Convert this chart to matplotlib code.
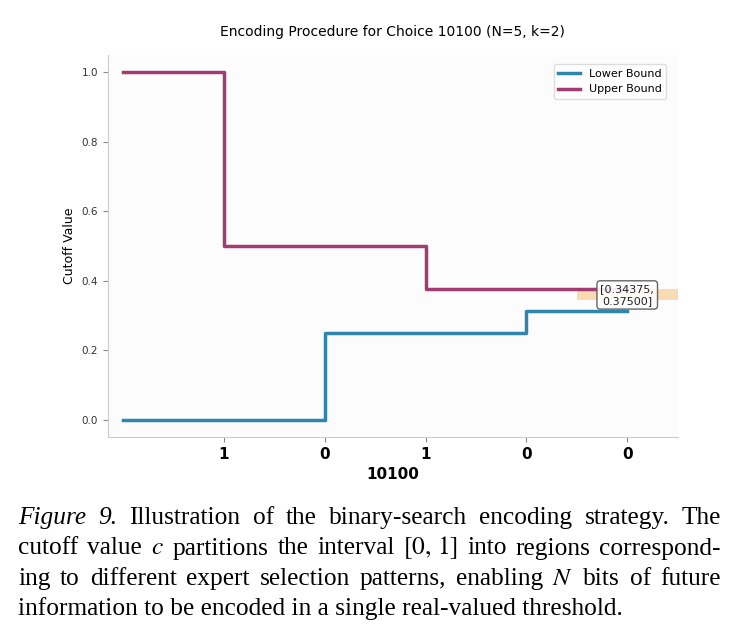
#!/usr/bin/env python3
import matplotlib
matplotlib.use("Agg")
import matplotlib.pyplot as plt

# encoding steps for choice 10100
steps = [0, 1, 2, 3, 4, 5]
bits = ["1", "0", "1", "0", "0"]
lower = [0.0, 0.0, 0.25, 0.25, 0.3125, 0.3125]
upper = [1.0, 0.5, 0.5, 0.375, 0.375, 0.375]
final_interval = [0.34375, 0.37500]

title = "Encoding Procedure for Choice 10100 (N=5, k=2)"
# words starting with "*" are set in italics
caption = [
    "*Figure *9. Illustration of the binary-search encoding strategy. The",
    r"cutoff value $c$ partitions the interval $[0,\,1]$ into regions correspond-",
    r"ing to different expert selection patterns, enabling $N$ bits of future",
    r"information to be encoded in a single real-valued threshold.",
]

plt.rcParams["mathtext.fontset"] = "stix"

fig = plt.figure(figsize=(7.39, 6.4), dpi=100)
ax = fig.add_axes([0.146, 0.317, 0.771, 0.597])
ax.set_facecolor("#fcfcfc")

ax.step(steps, lower, where="post", color="#2E86AB", lw=2.5, label="Lower Bound")
ax.step(steps, upper, where="post", color="#A23B72", lw=2.5, label="Upper Bound")
ax.fill_between([steps[-1] - 0.5, steps[-1] + 0.5], final_interval[0], final_interval[1],
                color="#F18F01", alpha=0.3, lw=0)
ax.text(steps[-1], sum(final_interval) / 2,
        f"[{final_interval[0]:.5f},\n{final_interval[1]:.5f}]",
        ha="center", va="center", fontsize=8, color="#222222",
        bbox=dict(boxstyle="round,pad=0.3", fc="white", ec="#555555", alpha=0.9))

ax.set_xlim(-0.15, 5.5)
ax.set_ylim(-0.05, 1.05)
ax.set_xticks(steps[1:])
ax.set_xticklabels(bits, fontsize=11, fontweight="bold")
ax.set_yticks([0.0, 0.2, 0.4, 0.6, 0.8, 1.0])
ax.tick_params(axis="y", labelsize=7.5, colors="#333333")
ax.tick_params(axis="both", color="#888888")
ax.set_xlabel("10100", fontsize=11, fontweight="bold")
ax.set_ylabel("Cutoff Value", fontsize=9)
ax.set_title(title, fontsize=10, pad=14)
for s in ["top", "right"]:
    ax.spines[s].set_visible(False)
for s in ["left", "bottom"]:
    ax.spines[s].set_color("#cccccc")
ax.legend(loc="upper right", fontsize=8, framealpha=1, edgecolor="#dddddd",
          bbox_to_anchor=(0.99, 0.99))

# caption, justified line by line
x0, x1 = 18 / 739, 721 / 739
fs = 18.3
renderer = fig.canvas.get_renderer()


def split_words(line):
    words, buf = [], None
    for w in line.split(" "):
        if buf is not None:
            buf += " " + w
            if w.count("$") % 2 == 1:
                words.append(buf)
                buf = None
        elif w.count("$") % 2 == 1:
            buf = w
        else:
            words.append(w)
    return words


for i, line in enumerate(caption):
    y = 1 - (524 + i * 30.5) / 640
    if i == len(caption) - 1:
        fig.text(x0, y, line, fontsize=fs, family="Liberation Serif", va="baseline")
        continue
    texts = []
    for w in split_words(line):
        style = "italic" if w.startswith("*") else "normal"
        texts.append(fig.text(0, y, w.lstrip("*"), fontsize=fs, family="Liberation Serif",
                              style=style, va="baseline"))
    widths = [t.get_window_extent(renderer).width / fig.bbox.width for t in texts]
    gap = (x1 - x0 - sum(widths)) / (len(texts) - 1)
    x = x0
    for t, w in zip(texts, widths):
        t.set_x(x)
        x += w + gap

fig.savefig("out.png", dpi=100)
